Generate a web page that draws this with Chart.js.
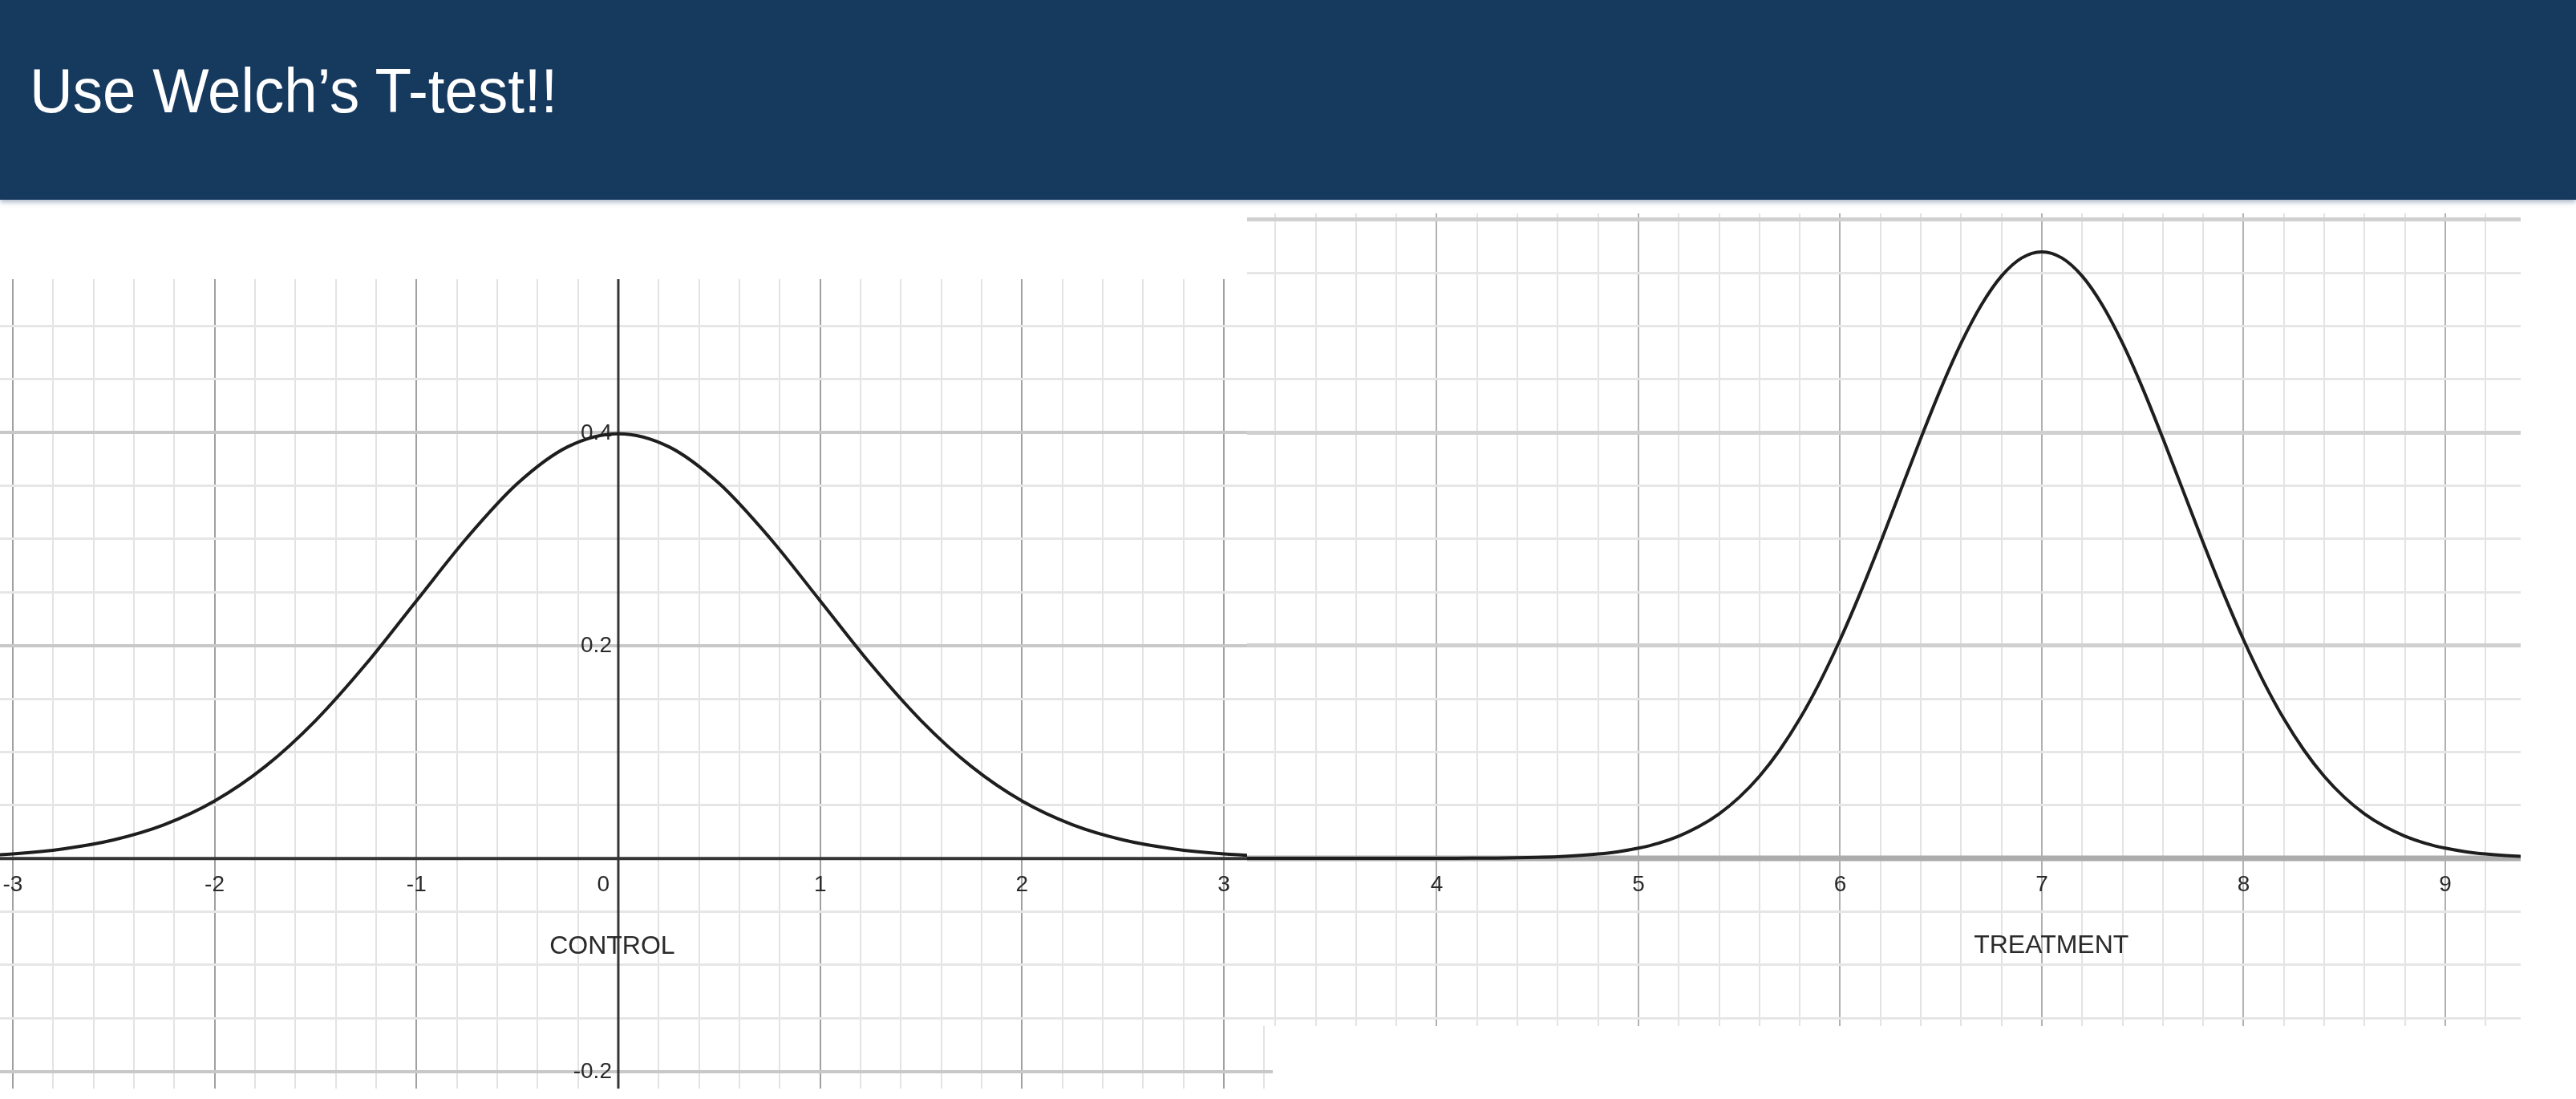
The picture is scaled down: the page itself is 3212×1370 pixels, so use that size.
<!DOCTYPE html>
<html>
<head>
<meta charset="utf-8">
<script src="https://cdn.jsdelivr.net/npm/chart.js@4.4.1/dist/chart.umd.min.js"></script>
<style>
  html, body { margin: 0; padding: 0; width: 3212px; height: 1370px; overflow: hidden; background: #fff; }
  body { font-family: "Liberation Sans", Arial, sans-serif; position: relative; }
  #header { position: absolute; left: 0; top: 0; width: 3212px; height: 249px; background: #16395e;
            box-shadow: 0 3px 6px rgba(70, 95, 130, 0.45); z-index: 3; }
  #title { position: absolute; left: 37px; top: 74px; margin: 0; color: #fff; font-size: 78px; line-height: 78px;
           font-weight: normal; transform: scaleX(0.955); transform-origin: left top; white-space: nowrap; }
  .plot { position: absolute; background: #fff; }
  #controlBox { left: 0; top: 348px; width: 1587px; height: 1009px; z-index: 1; }
  #treatmentBox { left: 1555px; top: 266px; width: 1588px; height: 1013px; z-index: 2; }
</style>
</head>
<body>
<div id="header"><h1 id="title">Use Welch’s T-test!!</h1></div>
<div class="plot" id="controlBox"><canvas id="controlChart"></canvas></div>
<div class="plot" id="treatmentBox"><canvas id="treatmentChart"></canvas></div>
<script>
// values
const controlX = [-3.25, -3, -2.75, -2.5, -2.25, -2, -1.75, -1.5, -1.25, -1, -0.75, -0.5, -0.25, 0,
                  0.25, 0.5, 0.75, 1, 1.25, 1.5, 1.75, 2, 2.25, 2.5, 2.75, 3, 3.25];
const controlDensity = [0.0020, 0.0044, 0.0091, 0.0175, 0.0317, 0.0540, 0.0863, 0.1295, 0.1826, 0.2420, 0.3011, 0.3521, 0.3867, 0.3989,
                        0.3867, 0.3521, 0.3011, 0.2420, 0.1826, 0.1295, 0.0863, 0.0540, 0.0317, 0.0175, 0.0091, 0.0044, 0.0020];

const treatmentX = [3.0, 3.5,
  4.0, 4.1, 4.2, 4.3, 4.4, 4.5, 4.6, 4.7, 4.8, 4.9,
  5.0, 5.1, 5.2, 5.3, 5.4, 5.5, 5.6, 5.7, 5.8, 5.9,
  6.0, 6.1, 6.2, 6.3, 6.4, 6.5, 6.6, 6.7, 6.8, 6.9,
  7.0, 7.1, 7.2, 7.3, 7.4, 7.5, 7.6, 7.7, 7.8, 7.9,
  8.0, 8.1, 8.2, 8.3, 8.4, 8.5, 8.6, 8.7, 8.8, 8.9,
  9.0, 9.1, 9.2, 9.3, 9.4, 9.5, 9.6];
const treatmentDensity = [0, 0,
  0.0001, 0.0001, 0.0002, 0.0003, 0.0006, 0.0010, 0.0016, 0.0026, 0.0041, 0.0063,
  0.0096, 0.0143, 0.0209, 0.0299, 0.0418, 0.0574, 0.0771, 0.1016, 0.1311, 0.1658,
  0.2054, 0.2494, 0.2966, 0.3457, 0.3947, 0.4416, 0.4841, 0.5199, 0.5471, 0.5641,
  0.5699, 0.5641, 0.5471, 0.5199, 0.4841, 0.4416, 0.3947, 0.3457, 0.2966, 0.2494,
  0.2054, 0.1658, 0.1311, 0.1016, 0.0771, 0.0574, 0.0418, 0.0299, 0.0209, 0.0143,
  0.0096, 0.0063, 0.0041, 0.0026, 0.0016, 0.0010, 0.0006];

// tick labels
const controlXTicks = [-3, -2, -1, 0, 1, 2, 3];
const controlYTicks = [0.4, 0.2, -0.2];
const treatmentXTicks = [4, 5, 6, 7, 8, 9];

const captions = ['CONTROL', 'TREATMENT'];

const isMultiple = (v, m) => Math.abs(v / m - Math.round(v / m)) < 1e-6;

function gridTicks(step) {
  return scale => {
    const out = [];
    for (let i = Math.ceil(scale.min / step - 1e-9); i * step <= scale.max + 1e-9; i++) {
      out.push({ value: Math.round(i * step * 1000) / 1000 });
    }
    scale.ticks = out;
  };
}

const labelFont = '28px "Liberation Sans", Arial, sans-serif';
const captionFont = '32px "Liberation Sans", Arial, sans-serif';

// white paper, axes, tick labels and caption, drawn under the curve
const desmosPlugin = {
  id: 'desmos',
  beforeDraw(chart) {
    const { ctx, width, height } = chart;
    ctx.save();
    ctx.fillStyle = '#fff';
    ctx.fillRect(0, 0, width, height);
    ctx.restore();
  },
  beforeDatasetsDraw(chart, args, opts) {
    const { ctx, chartArea: a, scales: { x, y } } = chart;
    const y0 = y.getPixelForValue(0);
    const x0 = x.getPixelForValue(0);
    ctx.save();
    ctx.beginPath();
    ctx.rect(a.left, a.top, a.right - a.left, a.bottom - a.top);
    ctx.clip();

    ctx.strokeStyle = opts.axisColor;
    ctx.lineWidth = opts.axisWidth;
    ctx.beginPath();
    ctx.moveTo(a.left, y0);
    ctx.lineTo(a.right, y0);
    ctx.stroke();
    if (opts.yAxis) {
      ctx.lineWidth = opts.axisWidth - 1;
      ctx.beginPath();
      ctx.moveTo(x0, a.top);
      ctx.lineTo(x0, a.bottom);
      ctx.stroke();
    }

    ctx.fillStyle = '#2a2a2a';
    ctx.font = labelFont;
    ctx.textBaseline = 'alphabetic';
    opts.xTicks.forEach(v => {
      const px = x.getPixelForValue(v);
      if (v === 0 && opts.yAxis) {
        ctx.textAlign = 'right';
        ctx.fillText(String(v), px - 11, y0 + 41);
      } else {
        ctx.textAlign = 'center';
        ctx.fillText(String(v), px, y0 + 41);
      }
    });
    ctx.textAlign = 'right';
    ctx.textBaseline = 'middle';
    opts.yTicks.forEach(v => {
      ctx.fillText(String(v), x0 - 8, y.getPixelForValue(v) + 1);
    });

    ctx.font = captionFont;
    ctx.textAlign = 'center';
    ctx.fillText(opts.caption, x.getPixelForValue(opts.captionAt[0]), y.getPixelForValue(opts.captionAt[1]));
    ctx.restore();
  }
};

function makeChart(id, xs, ys, cfg) {
  const ctx = document.getElementById(id).getContext('2d');
  return new Chart(ctx, {
    type: 'line',
    data: {
      datasets: [{
        data: xs.map((v, i) => ({ x: v, y: ys[i] })),
        borderColor: '#1e1e1e',
        borderWidth: 4,
        pointRadius: 0,
        fill: false,
        cubicInterpolationMode: 'monotone'
      }]
    },
    options: {
      responsive: true,
      maintainAspectRatio: false,
      animation: false,
      events: [],
      layout: { padding: 0 },
      scales: {
        x: {
          type: 'linear',
          min: cfg.xMin,
          max: cfg.xMax,
          afterBuildTicks: gridTicks(0.2),
          ticks: { display: false },
          border: { display: false },
          grid: {
            drawTicks: false,
            color: c => c.tick.value === 0 ? 'rgba(0,0,0,0)' : isMultiple(c.tick.value, 1) ? cfg.majorV : '#e3e3e3',
            lineWidth: 2
          }
        },
        y: {
          type: 'linear',
          min: cfg.yMin,
          max: cfg.yMax,
          afterBuildTicks: gridTicks(0.05),
          ticks: { display: false },
          border: { display: false },
          grid: {
            drawTicks: false,
            color: c => c.tick.value === 0 ? 'rgba(0,0,0,0)' : isMultiple(c.tick.value, 0.2) ? cfg.majorH : '#e6e6e6',
            lineWidth: c => isMultiple(c.tick.value, 0.2) ? cfg.majorHWidth : 3
          }
        }
      },
      plugins: {
        legend: { display: false },
        tooltip: { enabled: false },
        desmos: cfg.desmos
      }
    },
    plugins: [desmosPlugin]
  });
}

makeChart('controlChart', controlX, controlDensity, {
  xMin: -3.063, xMax: 3.242, yMin: -0.216, yMax: 0.544,
  majorV: '#a0a0a0', majorH: '#c8c8c8', majorHWidth: 4,
  desmos: {
    axisColor: '#353535', axisWidth: 4, yAxis: true,
    xTicks: controlXTicks, yTicks: controlYTicks,
    caption: captions[0], captionAt: [-0.03, -0.083]
  }
});

makeChart('treatmentChart', treatmentX, treatmentDensity, {
  xMin: 3.06, xMax: 9.374, yMin: -0.1575, yMax: 0.606,
  majorV: '#b2b2b2', majorH: '#d0d0d0', majorHWidth: 5,
  desmos: {
    axisColor: '#acacac', axisWidth: 7, yAxis: false,
    xTicks: treatmentXTicks, yTicks: [],
    caption: captions[1], captionAt: [7.047, -0.082]
  }
});
</script>
</body>
</html>
